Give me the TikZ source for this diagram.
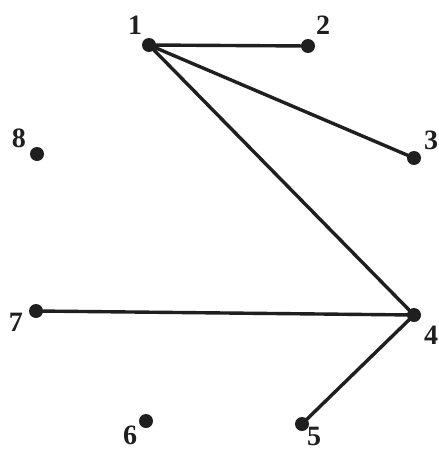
\documentclass[tikz,border=0pt]{standalone}
\usepackage{fontspec}
\setmainfont{Liberation Serif}
\begin{document}
\begin{tikzpicture}[x=1pt,y=-1pt,
  vertex/.style={circle,fill=black!88,inner sep=0pt,minimum size=14pt},
  lbl/.style={font=\fontsize{28}{28}\selectfont\bfseries,text=black!88,inner sep=0pt},
  edge/.style={draw=black!88,line width=3.4pt}]
\useasboundingbox[fill=white] (0,0) rectangle (439,450);
\node[vertex] (v1) at (149,45) {};
\node[vertex] (v2) at (308,46) {};
\node[vertex] (v3) at (414,158) {};
\node[vertex] (v4) at (414,315) {};
\node[vertex] (v5) at (302,424) {};
\node[vertex] (v6) at (146,421) {};
\node[vertex] (v7) at (36,311) {};
\node[vertex] (v8) at (37,154) {};
\node[lbl] (l1) at (135,25) {1};
\node[lbl] (l2) at (323,25) {2};
\node[lbl] (l3) at (431,140) {3};
\node[lbl] (l4) at (431,335) {4};
\node[lbl] (l5) at (314,436) {5};
\node[lbl] (l6) at (130,435) {6};
\node[lbl] (l7) at (16,322) {7};
\node[lbl] (l8) at (19,138) {8};
\draw[edge] (v1.center) -- (v2.center);
\draw[edge] (v1.center) -- (v3.center);
\draw[edge] (v1.center) -- (v4.center);
\draw[edge] (v7.center) -- (v4.center);
\draw[edge] (v4.center) -- (v5.center);
\end{tikzpicture}
\end{document}
